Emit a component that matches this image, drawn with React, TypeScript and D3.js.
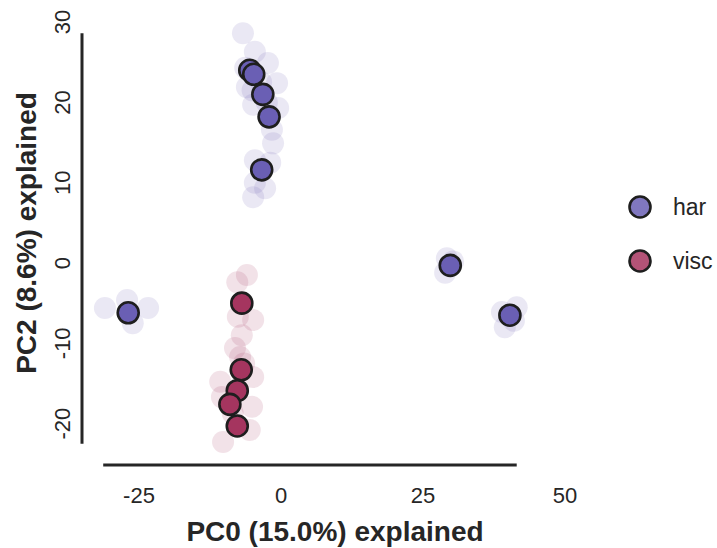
import React, { useEffect, useRef } from 'react';
import * as d3 from 'd3';

// highlighted samples (outlined markers)
const harMain: [number, number][] = [
  [-5.5, 24.0], [-4.8, 23.5], [-3.2, 21.0], [-2.1, 18.2], [-3.4, 11.6],
  [-26.9, -6.2], [29.8, -0.3], [40.3, -6.5],
];
const viscMain: [number, number][] = [
  [-6.9, -5.0], [-7.0, -13.3], [-7.7, -15.9], [-9.0, -17.6], [-7.7, -20.3],
];

// faint background samples
const harFaint: [number, number][] = [
  [-6.7, 28.6], [-4.6, 26.3], [-2.3, 24.9], [-6.0, 21.9], [-0.7, 22.4],
  [-4.9, 19.7], [-0.5, 19.3], [-1.6, 16.6], [-1.4, 14.9], [-4.6, 12.8],
  [-1.9, 12.5], [-4.6, 10.0], [-2.8, 9.3], [-4.9, 8.2], [-6.3, 24.3],
  [-3.5, 22.5], [-2.5, 20.0], [-5.0, 21.5],
  [-31.0, -5.6], [-27.1, -4.6], [-23.4, -5.6], [-26.1, -7.5],
  [29.2, 0.6], [28.9, -1.2], [30.3, 0.2],
  [41.5, -5.5], [38.9, -6.1], [39.4, -8.0], [41.0, -7.2],
];
const viscFaint: [number, number][] = [
  [-6.0, -1.5], [-7.7, -2.4], [-7.6, -6.7], [-4.9, -7.1], [-6.9, -9.0],
  [-8.1, -10.6], [-7.2, -11.7], [-10.7, -14.8], [-4.9, -14.2], [-10.4, -16.7],
  [-5.1, -17.9], [-10.2, -22.3], [-5.5, -20.8], [-8.5, -18.7], [-6.5, -12.5],
];

const xTicks = [-25, 0, 25, 50];
const yTicks = [-20, -10, 0, 10, 20, 30];
const groups = ['har', 'visc'];
const colors = ['#6a5fb4', '#a5355f'];

const W = 717;
const H = 548;

export default function App() {
  const ref = useRef<SVGSVGElement>(null);

  useEffect(() => {
    const svg = d3.select(ref.current);
    svg.selectAll('*').remove();
    const font = '"Liberation Sans", Arial, Helvetica, sans-serif';

    const x = d3.scaleLinear().domain([0, 25]).range([281, 423]);
    const y = d3.scaleLinear().domain([0, 10]).range([263, 182.7]);

    // spines
    svg.append('line')
      .attr('x1', 82).attr('x2', 82)
      .attr('y1', y(28.6)).attr('y2', y(-22.5))
      .attr('stroke', '#262626').attr('stroke-width', 3);
    svg.append('line')
      .attr('x1', x(-31.3)).attr('x2', x(41.5))
      .attr('y1', 465).attr('y2', 465)
      .attr('stroke', '#262626').attr('stroke-width', 3);

    // tick labels
    svg.append('g').selectAll('text').data(xTicks).enter().append('text')
      .attr('x', d => x(d)).attr('y', 495)
      .attr('text-anchor', 'middle').attr('dominant-baseline', 'central')
      .style('font-family', font).style('font-size', '22px').attr('fill', '#262626')
      .text(d => d);
    svg.append('g').selectAll('text').data(yTicks).enter().append('text')
      .attr('transform', d => `translate(62,${y(d)}) rotate(-90)`)
      .attr('text-anchor', 'middle').attr('dominant-baseline', 'central')
      .style('font-family', font).style('font-size', '22px').attr('fill', '#262626')
      .text(d => d);

    // axis labels
    svg.append('text')
      .attr('x', 335).attr('y', 531)
      .attr('text-anchor', 'middle').attr('dominant-baseline', 'central')
      .style('font-family', font).style('font-size', '28px').style('font-weight', 'bold')
      .attr('fill', '#262626')
      .text('PC0 (15.0%) explained');
    svg.append('text')
      .attr('transform', 'translate(26,233) rotate(-90)')
      .attr('text-anchor', 'middle').attr('dominant-baseline', 'central')
      .style('font-family', font).style('font-size', '28px').style('font-weight', 'bold')
      .attr('fill', '#262626')
      .text('PC2 (8.6%) explained');

    // faint points
    const faint = [harFaint, viscFaint];
    faint.forEach((pts, i) => {
      svg.append('g').selectAll('circle').data(pts).enter().append('circle')
        .attr('cx', d => x(d[0])).attr('cy', d => y(d[1]))
        .attr('r', 11)
        .attr('fill', colors[i]).attr('fill-opacity', 0.14);
    });

    // highlighted points
    const main = [harMain, viscMain];
    main.forEach((pts, i) => {
      svg.append('g').selectAll('circle').data(pts).enter().append('circle')
        .attr('cx', d => x(d[0])).attr('cy', d => y(d[1]))
        .attr('r', 10.5)
        .attr('fill', colors[i])
        .attr('stroke', '#1e1e1e').attr('stroke-width', 2.6);
    });

    // legend
    const leg = svg.append('g').selectAll('g').data(groups).enter().append('g')
      .attr('transform', (d, i) => `translate(640,${207 + i * 54})`);
    leg.append('circle')
      .attr('r', 10.5)
      .attr('fill', (d, i) => d3.interpolateRgb(colors[i], '#fff')(0.15))
      .attr('stroke', '#1e1e1e').attr('stroke-width', 2.6);
    leg.append('text')
      .attr('x', 33).attr('dominant-baseline', 'central')
      .style('font-family', font).style('font-size', '23px').attr('fill', '#262626')
      .text(d => d);
  }, []);

  return (
    <svg ref={ref} width={W} height={H}
      style={{ position: 'absolute', left: 0, top: 0, background: '#fff' }} />
  );
}
